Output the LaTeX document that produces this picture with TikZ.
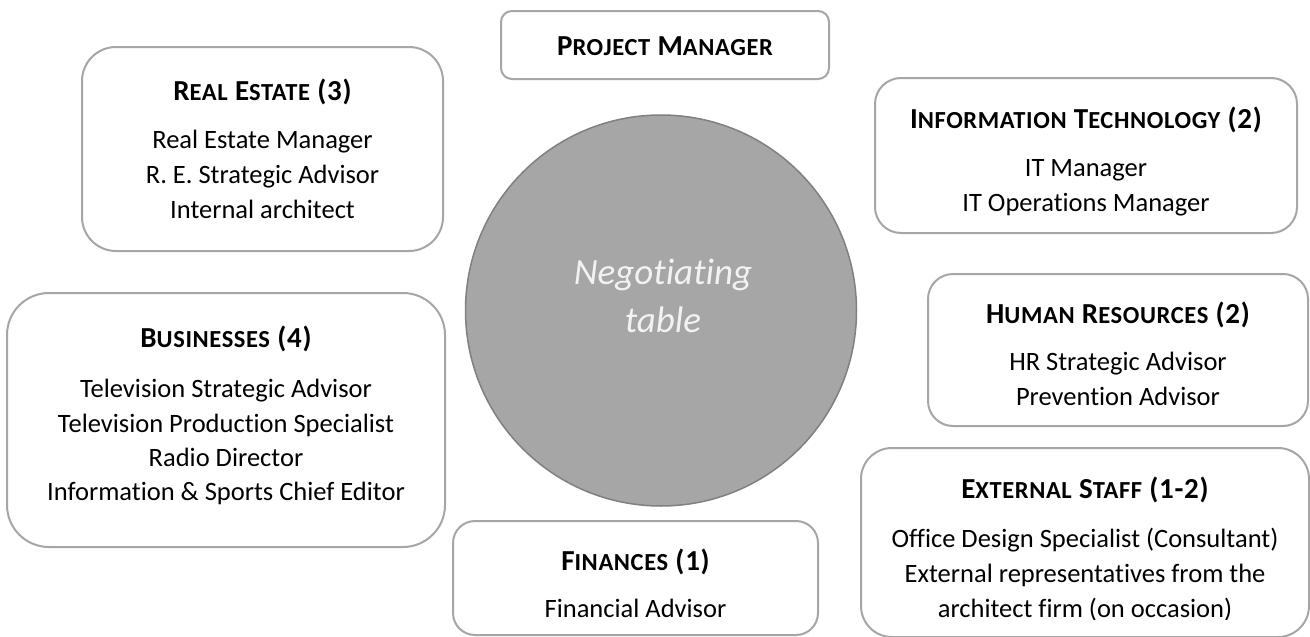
\documentclass[tikz,border=0pt]{standalone}
\usepackage{fontspec}
\setmainfont{Carlito}[Ligatures={NoCommon,NoContextual}, RawFeature={-clig;-dlig}]
\newfontfamily\titlefont{Carlito}[Ligatures={NoCommon,NoContextual}, RawFeature={-clig;-dlig}, LetterSpace=2.5]
\newcommand\sm[1]{{\fontsize{24.5}{25}\selectfont #1}}
\definecolor{boxline}{HTML}{A6A6A6}
\definecolor{tablefill}{HTML}{A6A6A6}
\definecolor{tableline}{HTML}{808080}
\definecolor{tabletext}{HTML}{F2F2F2}
\tikzset{
  box/.style={draw=boxline, line width=2pt, fill=white, rectangle, inner sep=0pt},
  ttl/.style={anchor=base, inner sep=0pt, font=\titlefont\fontsize{29}{29}\selectfont\bfseries},
  bdy/.style={anchor=base, inner sep=0pt, font=\fontsize{26.5}{28}\selectfont},
  neg/.style={anchor=base, inner sep=0pt, text=tabletext, font=\fontsize{37}{37}\selectfont\itshape},
}
\begin{document}
\begin{tikzpicture}[x=1pt,y=-1pt]
\useasboundingbox (0,0) rectangle (1310,637);
% table
\node[circle, draw=tableline, line width=1.5pt, fill=tablefill, minimum size=391pt, inner sep=0pt] (table) at (661,310.5) {};
\node[neg] (neg1) at (663,284) {Negot\kern0pt iat\kern0pt ing};
\node[neg] (neg2) at (663,332) {table};
% project manager
\node[box, minimum width=328pt, minimum height=68pt, rounded corners=11pt] (pm) at (665,45) {};
\node[ttl] (pmt) at (665,55) {P\sm{ROJECT} M\sm{ANAGER}};
% real estate
\node[box, minimum width=361pt, minimum height=204pt, rounded corners=34pt] (re) at (262.5,149) {};
\node[ttl] (ret) at (262.5,100) {R\sm{EAL} E\sm{STATE} (3)};
\node[bdy] (re1) at (262.5,148) {Real Estate Manager};
\node[bdy] (re2) at (262.5,183) {R. E. Strategic Advisor};
\node[bdy] (re3) at (262.5,218) {Internal architect};
% information technology
\node[box, minimum width=422pt, minimum height=155pt, rounded corners=26pt] (it) at (1086,155.5) {};
\node[ttl] (itt) at (1086,128) {I\sm{NFORMATION} T\sm{ECHNOLOGY} (2)};
\node[bdy] (it1) at (1086,176) {IT Manager};
\node[bdy] (it2) at (1086,211) {IT Operat\kern0pt ions Manager};
% businesses
\node[box, minimum width=438pt, minimum height=254pt, rounded corners=42pt] (bus) at (226,420) {};
\node[ttl] (bust) at (226,347) {B\sm{USINESSES} (4)};
\node[bdy] (bus1) at (226,397) {Television Strategic Advisor};
\node[bdy] (bus2) at (226,432) {Television Product\kern0pt ion Specialist};
\node[bdy] (bus3) at (226,466) {Radio Director};
\node[bdy] (bus4) at (226,500) {Informat\kern0pt ion \& Sports Chief Editor};
% human resources
\node[box, minimum width=380pt, minimum height=152pt, rounded corners=25pt] (hr) at (1118,350) {};
\node[ttl] (hrt) at (1118,323) {H\sm{UMAN} R\sm{ESOURCES} (2)};
\node[bdy] (hr1) at (1118,370) {HR Strategic Advisor};
\node[bdy] (hr2) at (1118,405) {Prevent\kern0pt ion Advisor};
% finances
\node[box, minimum width=365pt, minimum height=114pt, rounded corners=22pt] (fin) at (635.5,578) {};
\node[ttl] (fint) at (635.5,570) {F\sm{INANCES} (1)};
\node[bdy] (fin1) at (635.5,617) {Financial Advisor};
% external staff
\node[box, minimum width=448pt, minimum height=189pt, rounded corners=31pt] (ext) at (1085,542.5) {};
\node[ttl] (extt) at (1085,498) {E\sm{XTERNAL} S\sm{TAFF} (1-2)};
\node[bdy] (ext1) at (1085,547) {Office Design Specialist (Consultant)};
\node[bdy] (ext2) at (1085,582) {External representat\kern0pt ives from the};
\begin{scope}
\clip (861,590) rectangle (1309,619);
\node[bdy] (ext3) at (1085,617) {architect firm (on occasion)};
\end{scope}
\end{tikzpicture}
\end{document}
